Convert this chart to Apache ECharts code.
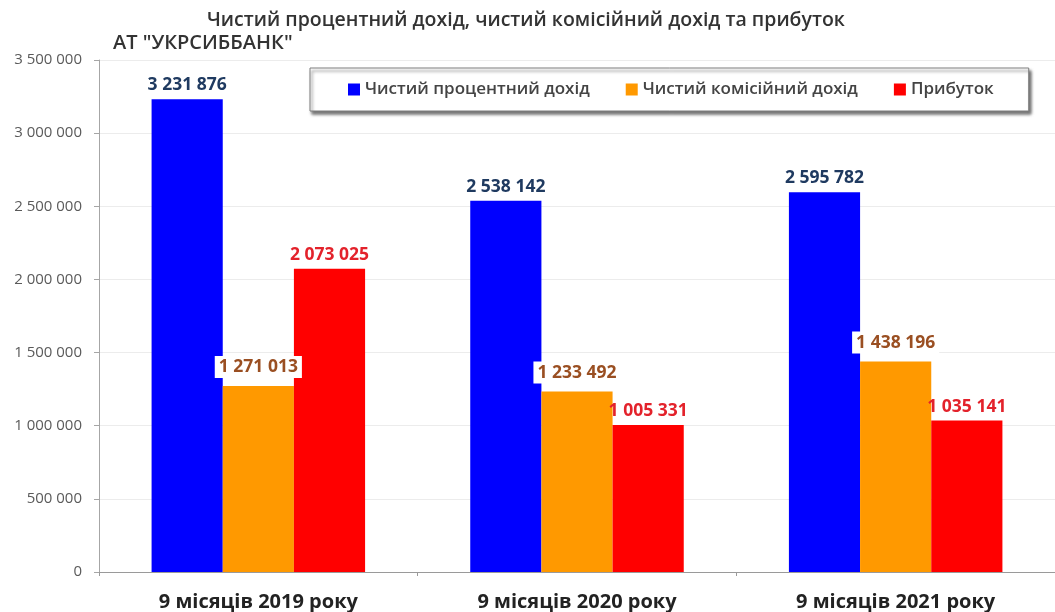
<!DOCTYPE html>
<html>
<head>
<meta charset="utf-8">
<script src="https://cdn.jsdelivr.net/npm/echarts@6/dist/echarts.min.js"></script>
<style>
  html, body { margin: 0; padding: 0; background: #ffffff; }
  #chart { width: 1055px; height: 612px; }
</style>
</head>
<body>
<div id="chart"></div>
<script>
// Periods and values (thousand UAH)
const categories = ['9 місяців 2019 року', '9 місяців 2020 року', '9 місяців 2021 року'];
const seriesNames = ['Чистий процентний дохід', 'Чистий комісійний дохід', 'Прибуток'];
const netInterestIncome = [3231876, 2538142, 2595782];
const netFeeIncome = [1271013, 1233492, 1438196];
const profit = [2073025, 1005331, 1035141];
const yTicks = [0, 500000, 1000000, 1500000, 2000000, 2500000, 3000000, 3500000];

const FONT = '"Open Sans", "DejaVu Sans", sans-serif';

// "3231876" -> "3 231 876"
function spaced(v) {
  return String(v).replace(/\B(?=(\d{3})+(?!\d))/g, ' ');
}

const chart = echarts.init(document.getElementById('chart'), null, { renderer: 'canvas' });

function barSeries(name, data, color, labelColor, extraLabel) {
  return {
    name: name,
    type: 'bar',
    data: data,
    barGap: '0%',
    barCategoryGap: '33%',
    itemStyle: { color: color },
    label: Object.assign({
      show: true,
      position: 'top',
      distance: 5,
      fontFamily: FONT,
      fontSize: 17.5,
      fontWeight: 'bold',
      color: labelColor,
      formatter: p => spaced(p.value)
    }, extraLabel || {})
  };
}

chart.setOption({
  animation: false,
  backgroundColor: '#ffffff',
  title: [
    {
      text: 'Чистий процентний дохід, чистий комісійний дохід та прибуток',
      left: 202, top: 5,
      textStyle: { fontFamily: FONT, fontSize: 19.5, fontWeight: 600, color: '#333333' }
    },
    {
      text: 'АТ "УКРСИББАНК"',
      left: 108, top: 28,
      textStyle: { fontFamily: FONT, fontSize: 20, fontWeight: 600, color: '#333333' }
    }
  ],
  legend: {
    data: seriesNames,
    left: 310,
    top: 68,
    padding: [13, 35, 13, 38],
    itemGap: 36,
    itemWidth: 12,
    itemHeight: 12,
    icon: 'rect',
    backgroundColor: '#ffffff',
    borderColor: '#7f7f7f',
    borderWidth: 1,
    shadowColor: 'rgba(0,0,0,0.55)',
    shadowBlur: 3,
    shadowOffsetX: 2,
    shadowOffsetY: 3,
    textStyle: { fontFamily: FONT, fontSize: 17, fontWeight: 600, color: '#444444' }
  },
  grid: { left: 99, right: -5, top: 60, bottom: 40, containLabel: false },
  xAxis: {
    type: 'category',
    data: categories,
    axisLine: { lineStyle: { color: '#9a9a9a', width: 1 } },
    axisTick: { show: true, length: 4, lineStyle: { color: '#9a9a9a' } },
    axisLabel: {
      margin: 20,
      fontFamily: FONT, fontSize: 20, fontWeight: 'bold', color: '#222222'
    },
    splitLine: { show: false }
  },
  yAxis: {
    type: 'value',
    min: yTicks[0],
    max: yTicks[yTicks.length - 1],
    interval: yTicks[1] - yTicks[0],
    axisLine: { show: true, lineStyle: { color: '#a6a6a6', width: 1 } },
    axisTick: { show: true, length: 5, lineStyle: { color: '#a6a6a6' } },
    axisLabel: {
      margin: 17,
      fontFamily: FONT, fontSize: 15, color: '#5a5a5a',
      formatter: v => spaced(v)
    },
    splitLine: { show: true, lineStyle: { color: '#ececec', width: 1 } }
  },
  series: [
    barSeries(seriesNames[0], netInterestIncome, '#0000ff', '#1f3a60'),
    barSeries(seriesNames[1], netFeeIncome, '#ff9900', '#9a4f22', {
      backgroundColor: '#ffffff',
      padding: [2, 4],
      distance: 8
    }),
    barSeries(seriesNames[2], profit, '#ff0000', '#e3222b')
  ]
});
</script>
</body>
</html>
